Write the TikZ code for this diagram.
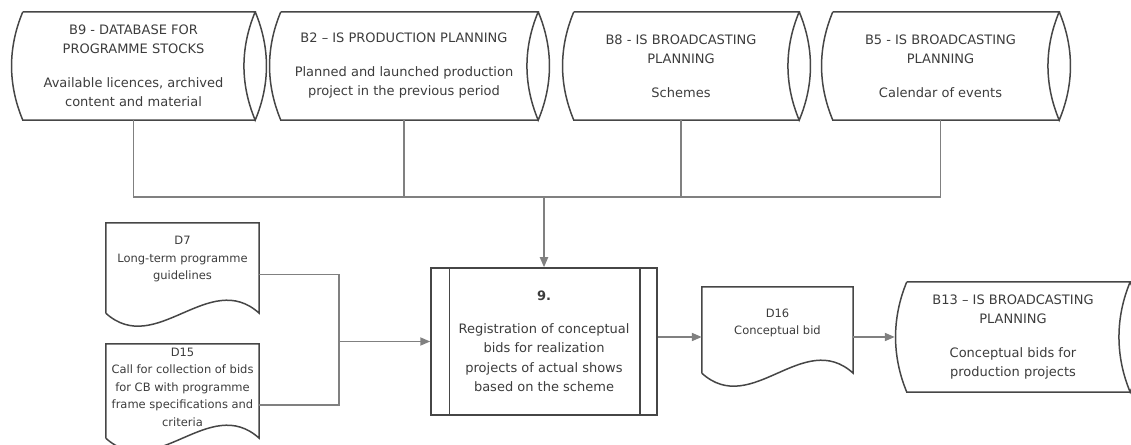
\documentclass[tikz,border=0pt]{standalone}
\usepackage{fontspec}
\setmainfont{DejaVu Sans}
\usetikzlibrary{arrows.meta, positioning, calc}
\definecolor{outline}{RGB}{70, 70, 70}
\definecolor{connector}{RGB}{128, 128, 128}
\definecolor{textgray}{RGB}{60, 60, 60}

% outline of a stored-data shape round a node
\newcommand{\storeoutline}[1]{%
  \draw[shapeline] (#1.north west) -- ([xshift=11pt]#1.north east)
    .. controls +(-15,-36) and +(-15,36) .. ([xshift=11pt]#1.south east)
    .. controls +(15,36) and +(15,-36) .. ([xshift=11pt]#1.north east);
  \draw[shapeline] ([xshift=11pt]#1.south east) -- (#1.south west)
    .. controls +(-15,36) and +(-15,-36) .. (#1.north west);
}
% outline of a document shape, #2 = extra depth of the sides
\newcommand{\docoutline}[2]{%
  \draw[shapeline] ([yshift=-#2]#1.south west) -- (#1.north west) -- (#1.north east)
    -- ([yshift=-#2]#1.south east)
    .. controls +(-50,45) and +(50,-45) .. ([yshift=-#2]#1.south west);
}

\begin{document}
\begin{tikzpicture}[
        x=1pt, y=1pt,
        every node/.style={text=textgray, font=\fontsize{13pt}{19.5pt}\selectfont},
        shapeline/.style={draw=outline, line width=1.5pt},
        store/.style={rectangle, inner sep=0pt, minimum height=108pt, align=center},
        doc/.style={rectangle, inner sep=0pt, minimum width=153pt, align=center,
                    font=\fontsize{11.5pt}{17.5pt}\selectfont},
        process/.style={rectangle, shapeline, minimum width=226pt, minimum height=147pt,
                        inner sep=0pt, align=center},
        link/.style={draw=connector, line width=1.8pt},
        arrow/.style={link, -{Triangle[length=10pt, width=8pt]}},
    ]
        \useasboundingbox (0,0) rectangle (1131,444);

        \node[store, minimum width=221pt] (b9) at (133.5,378)
            {B9 - DATABASE FOR\\PROGRAMME STOCKS\\[14pt]Available licences, archived\\content and material};
        \node[store, minimum width=246pt] (b2) at (404,378)
            {B2 -- IS PRODUCTION PLANNING\\[14pt]Planned and launched production\\project in the previous period};
        \node[store, minimum width=214pt] (b8) at (681,378)
            {B8 - IS BROADCASTING\\PLANNING\\[14pt]Schemes};
        \node[store, minimum width=215pt] (b5) at (940.5,378)
            {B5 - IS BROADCASTING\\PLANNING\\[14pt]Calendar of events};

        \node[doc, minimum height=73pt] (d7) at (182.5,184.5)
            {D7\\Long-term programme\\guidelines};
        \node[doc, minimum height=86pt] (d15) at (182.5,57)
            {D15\\Call for collection of bids\\for CB with programme\\frame specifications and\\criteria};

        \node[process] (proc) at (544,102.5)
            {\textbf{9.}\\[13pt]Registration of conceptual\\bids for realization\\projects of actual shows\\based on the scheme};

        \node[doc, minimum width=151pt, minimum height=72pt] (d16) at (777.5,121)
            {D16\\Conceptual bid};
        \node[store, minimum width=212pt, minimum height=110pt] (b13) at (1013,107)
            {B13 -- IS BROADCASTING\\PLANNING\\[14pt]Conceptual bids for\\production projects};

        \storeoutline{b9}
        \storeoutline{b2}
        \storeoutline{b8}
        \storeoutline{b5}
        \storeoutline{b13}
        \docoutline{d7}{17pt}
        \docoutline{d15}{8pt}
        \docoutline{d16}{14pt}
        \draw[shapeline] ([xshift=19pt]proc.north west) -- ([xshift=19pt]proc.south west);
        \draw[shapeline] ([xshift=-18pt]proc.north east) -- ([xshift=-18pt]proc.south east);

        \coordinate (bus) at (544,247);
        \coordinate (merge) at ($(proc.west)+(-91,0)$);

        \draw[link] (b9.south) |- (bus);
        \draw[link] (b2.south) |- (bus);
        \draw[link] (b8.south) |- (bus);
        \draw[link] (b5.south) |- (bus);
        \draw[arrow] (bus) -- (proc.north);

        \draw[link] ([yshift=-15pt]d7.east) -| (merge);
        \draw[link] ([yshift=-18pt]d15.east) -| (merge);
        \draw[arrow] (merge) -- (proc.west);

        \draw[arrow] (proc.east |- b13.west) -- (d16.west |- b13.west);
        \draw[arrow] (d16.east |- b13.west) -- ([xshift=-12pt]b13.west);

    \end{tikzpicture}
\end{document}
